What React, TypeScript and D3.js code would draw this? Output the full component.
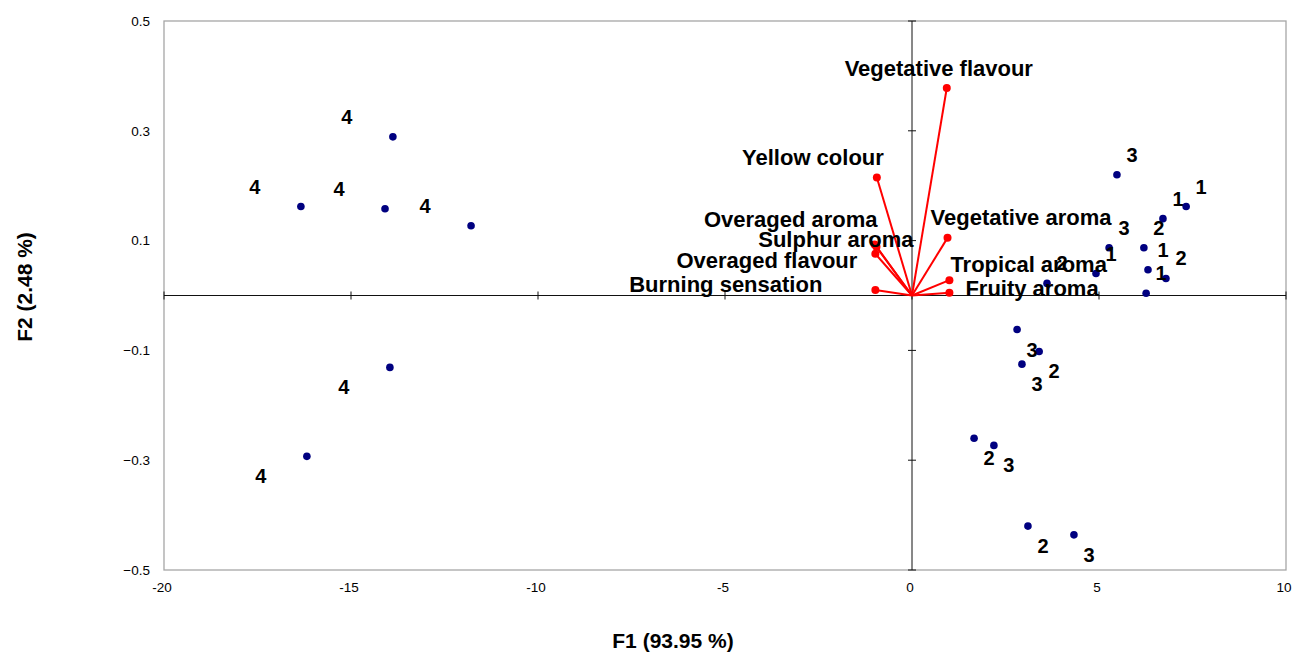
import React from 'react'
import * as d3 from 'd3'

const WIDTH = 1295
const HEIGHT = 653
const PLOT = { left: 164, right: 1286, top: 21, bottom: 570 }

// observations (PCA scores) and their group label
const obsF1 = [-13.88, -16.34, -14.09, -11.79, -13.96, -16.18,
  5.48, 7.33, 6.71, 5.27, 6.20, 6.31, 6.79, 4.92, 3.61, 6.26,
  2.81, 3.40, 2.94, 1.66, 2.19, 3.10, 4.33]
const obsF2 = [0.289, 0.162, 0.158, 0.127, -0.131, -0.293,
  0.220, 0.162, 0.140, 0.087, 0.087, 0.047, 0.031, 0.040, 0.022, 0.004,
  -0.062, -0.102, -0.125, -0.260, -0.273, -0.420, -0.436]
const obsLabel = ['4', '4', '4', '4', '4', '4',
  '3', '1', '1', '3', '2', '1', '2', '1', '2', '1',
  '3', '2', '3', '2', '3', '2', '3']

// variables (loadings)
const varNames = ['Vegetative flavour', 'Yellow colour', 'Overaged aroma', 'Sulphur aroma',
  'Overaged flavour', 'Burning sensation', 'Vegetative aroma', 'Tropical aroma', 'Fruity aroma']
const varF1 = [0.93, -0.94, -1.00, -0.95, -0.98, -0.98, 0.95, 1.00, 1.00]
const varF2 = [0.378, 0.215, 0.093, 0.089, 0.076, 0.010, 0.105, 0.028, 0.005]

const xTicks = [-20, -15, -10, -5, 0, 5, 10]
const yTicks = [-0.5, -0.3, -0.1, 0.1, 0.3, 0.5]

// hand placed label offsets (px from the vector tip), as in the original
const varLabelPos: { [k: string]: [number, number, string] } = {
  'Vegetative flavour': [-8, -20, 'middle'],
  'Yellow colour': [7, -20, 'end'],
  'Overaged aroma': [3, -25, 'end'],
  'Sulphur aroma': [37, -7, 'end'],
  'Overaged flavour': [-18, 7, 'end'],
  'Burning sensation': [-53, -6, 'end'],
  'Vegetative aroma': [-17, -21, 'start'],
  'Tropical aroma': [1, -16, 'start'],
  'Fruity aroma': [16, -4, 'start'],
}

const FONT = 'Arial, "Liberation Sans", sans-serif'

export default function App() {
  const x = d3.scaleLinear().domain([-20, 10]).range([PLOT.left, PLOT.right])
  const y = d3.scaleLinear().domain([-0.5, 0.5]).range([PLOT.bottom, PLOT.top])
  const fmtY = (v: number) => (v === 0 ? '0' : d3.format('.1f')(v))

  const x0 = x(0)
  const y0 = y(0)

  return (
    <div style={{ position: 'absolute', left: 0, top: 0 }}>
      <svg width={WIDTH} height={HEIGHT} style={{ display: 'block', background: '#fff' }}>
        {/* plot frame */}
        <rect x={PLOT.left} y={PLOT.top} width={PLOT.right - PLOT.left} height={PLOT.bottom - PLOT.top}
          fill="none" stroke="#a6a6a6" strokeWidth={1.3} />

        {/* central axes */}
        <line x1={PLOT.left} x2={PLOT.right} y1={y0} y2={y0} stroke="#111" strokeWidth={1} />
        <line x1={x0} x2={x0} y1={PLOT.top} y2={PLOT.bottom} stroke="#111" strokeWidth={1} />
        {xTicks.map((t) => (
          <line key={'xt' + t} x1={x(t)} x2={x(t)} y1={y0 - 4} y2={y0 + 4} stroke="#111" />
        ))}
        {yTicks.map((t) => (
          <line key={'yt' + t} x1={x0 - 4} x2={x0 + 4} y1={y(t)} y2={y(t)} stroke="#111" />
        ))}

        {/* tick labels on the frame */}
        {xTicks.map((t) => (
          <text key={'xl' + t} x={x(t) - 2} y={PLOT.bottom + 22} textAnchor="middle"
            fontFamily={FONT} fontSize={13.5} fill="#000">{t}</text>
        ))}
        {yTicks.map((t) => (
          <text key={'yl' + t} x={PLOT.left - 14} y={y(t)} dy="0.35em" textAnchor="end"
            fontFamily={FONT} fontSize={13.5} fill="#000">{fmtY(t)}</text>
        ))}

        {/* axis titles */}
        <text x={673} y={641} dy="0.35em" textAnchor="middle" fontFamily={FONT} fontSize={21}
          fontWeight="bold">F1 (93.95 %)</text>
        <text transform="translate(25,287) rotate(-90)" dy="0.35em" textAnchor="middle"
          fontFamily={FONT} fontSize={21} fontWeight="bold">F2 (2.48 %)</text>

        {/* variable vectors */}
        {varNames.map((n, i) => (
          <g key={'v' + n}>
            <line x1={x0} y1={y0} x2={x(varF1[i])} y2={y(varF2[i])} stroke="#ff0000" strokeWidth={2} />
            <circle cx={x(varF1[i])} cy={y(varF2[i])} r={4} fill="#ff0000" />
          </g>
        ))}

        {/* observations */}
        {obsF1.map((v, i) => (
          <circle key={'o' + i} cx={x(v)} cy={y(obsF2[i])} r={3.8} fill="#000080" />
        ))}
        {obsF1.map((v, i) => (
          <text key={'ol' + i} x={x(v) + (v < 0 ? -46 : 15)} y={y(obsF2[i]) + (obsF2[i] < 0 ? 20 : -20)}
            dy="0.35em" textAnchor="middle" fontFamily={FONT} fontSize={20} fontWeight="bold"
            fill="#000">{obsLabel[i]}</text>
        ))}

        {/* variable labels */}
        {varNames.map((n, i) => {
          const [dx, dy, anchor] = varLabelPos[n]
          return (
            <text key={'vl' + n} x={x(varF1[i]) + dx} y={y(varF2[i]) + dy} dy="0.35em"
              textAnchor={anchor as any} fontFamily={FONT} fontSize={22} fontWeight="bold"
              fill="#000">{n}</text>
          )
        })}
      </svg>
    </div>
  )
}
